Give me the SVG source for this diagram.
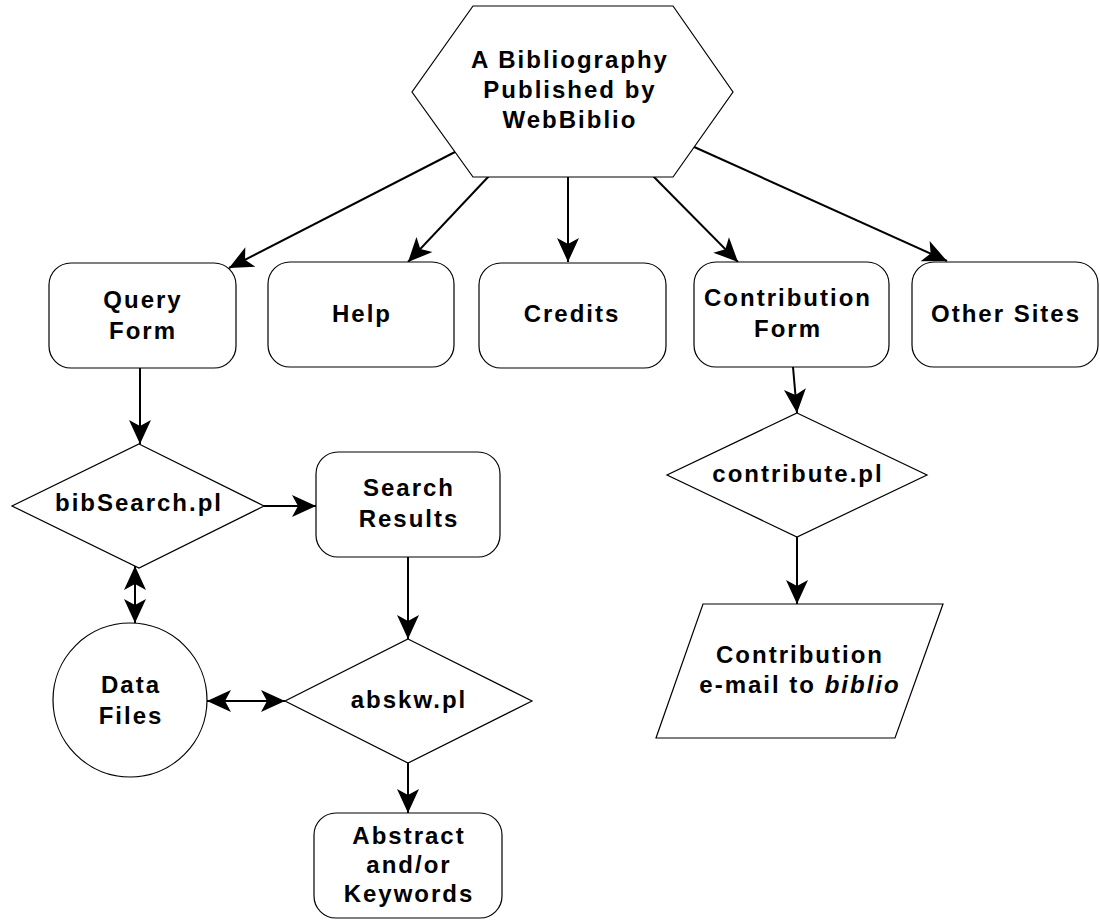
<svg xmlns="http://www.w3.org/2000/svg" width="1100" height="920" viewBox="0 0 1100 920">
<defs>
<style>
.shape{fill:#fff;stroke:#000;stroke-width:1.2}
.lbl{font-family:"Liberation Sans",Arial,sans-serif;font-weight:bold;font-size:24px;letter-spacing:2px;text-anchor:middle;fill:#000}
.conn{stroke:#000;stroke-width:2;fill:none}
.arr{marker-end:url(#ah)}
.dbl{marker-start:url(#ah);marker-end:url(#ah)}
</style>
<marker id="ah" markerUnits="userSpaceOnUse" markerWidth="1" markerHeight="1" refX="0" refY="0" orient="auto-start-reverse" overflow="visible">
<path d="M0,0 L-24,-11 L-18,0 L-24,11 Z" fill="#000"/>
</marker>
</defs>
<rect width="1100" height="920" fill="#fff"/>
<g id="connectors">
<path class="conn arr" d="M455,152 L229,268"/>
<path class="conn arr" d="M489,176 L408,262"/>
<path class="conn arr" d="M568,177 L568,262"/>
<path class="conn arr" d="M653,176 L738,262"/>
<path class="conn arr" d="M692,146 L947,261"/>
<path class="conn arr" d="M140,368 L140,444"/>
<path class="conn dbl" d="M135,566 L135,623"/>
<path class="conn arr" d="M263,506 L316,506"/>
<path class="conn arr" d="M408,557 L408,639"/>
<path class="conn dbl" d="M207,701 L285,701"/>
<path class="conn arr" d="M408,762 L408,813"/>
<path class="conn arr" d="M793,367 L797,413"/>
<path class="conn arr" d="M797,537 L797,604"/>
</g>
<g id="root">
<polygon class="shape" points="473,6 673,6 733,92 673,177 473,177 412,92"/>
<text class="lbl" x="570" y="68">A Bibliography</text>
<text class="lbl" x="570" y="98">Published by</text>
<text class="lbl" x="570" y="128">WebBiblio</text>
</g>
<g id="query-form">
<rect class="shape" x="49" y="263" width="187" height="105" rx="22"/>
<text class="lbl" x="143" y="308">Query</text>
<text class="lbl" x="143" y="339">Form</text>
</g>
<g id="help">
<rect class="shape" x="268" y="262" width="186" height="105" rx="22"/>
<text class="lbl" x="362" y="322">Help</text>
</g>
<g id="credits">
<rect class="shape" x="479" y="263" width="187" height="105" rx="22"/>
<text class="lbl" x="572" y="322">Credits</text>
</g>
<g id="contribution-form">
<rect class="shape" x="694" y="262" width="195" height="105" rx="22"/>
<text class="lbl" x="788" y="306">Contribution</text>
<text class="lbl" x="788" y="337">Form</text>
</g>
<g id="other-sites">
<rect class="shape" x="912" y="262" width="186" height="105" rx="22"/>
<text class="lbl" x="1006" y="322">Other Sites</text>
</g>
<g id="bibsearch">
<polygon class="shape" points="139,444 264,506 139,568 12,506"/>
<text class="lbl" x="139" y="511">bibSearch.pl</text>
</g>
<g id="search-results">
<rect class="shape" x="316" y="452" width="184" height="105" rx="22"/>
<text class="lbl" x="409" y="496">Search</text>
<text class="lbl" x="409" y="527">Results</text>
</g>
<g id="data-files">
<circle class="shape" cx="130" cy="700" r="77"/>
<text class="lbl" x="131" y="693">Data</text>
<text class="lbl" x="131" y="724">Files</text>
</g>
<g id="abskw">
<polygon class="shape" points="408,639 532,701 408,763 285,701"/>
<text class="lbl" x="409" y="708">abskw.pl</text>
</g>
<g id="abstract">
<rect class="shape" x="314" y="813" width="188" height="105" rx="22"/>
<text class="lbl" x="409" y="844">Abstract</text>
<text class="lbl" x="409" y="873">and/or</text>
<text class="lbl" x="409" y="902">Keywords</text>
</g>
<g id="contribute">
<polygon class="shape" points="797,413 927,475 797,537 667,475"/>
<text class="lbl" x="798" y="482">contribute.pl</text>
</g>
<g id="email">
<polygon class="shape" points="703,604 943,604 895,738 656,738"/>
<text class="lbl" x="800" y="663">Contribution</text>
<text class="lbl" x="800" y="693">e-mail to <tspan font-style="italic">biblio</tspan></text>
</g>
</svg>
